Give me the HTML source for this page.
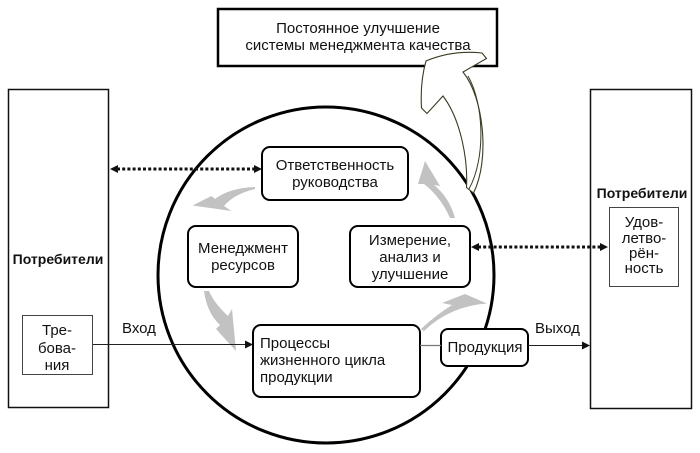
<!DOCTYPE html>
<html>
<head>
<meta charset="utf-8">
<style>
html,body{margin:0;padding:0;background:#fff;}
svg{display:block;}
text{font-family:"Liberation Sans","DejaVu Sans",sans-serif;fill:#111;}
</style>
</head>
<body>
<svg width="700" height="453" viewBox="0 0 700 453" xmlns="http://www.w3.org/2000/svg">
  <rect x="0" y="0" width="700" height="453" fill="#fff"/>

  <!-- Left consumers box -->
  <rect x="8.5" y="89.5" width="100" height="318" fill="#fff" stroke="#111" stroke-width="1.5"/>
  <text x="58" y="264" font-size="14" font-weight="bold" text-anchor="middle">Потребители</text>
  <rect x="22.5" y="315.5" width="70" height="59" fill="#fff" stroke="#444" stroke-width="1"/>
  <text x="57" y="335" font-size="15" text-anchor="middle">Тре-</text>
  <text x="57" y="353" font-size="15" text-anchor="middle">бова-</text>
  <text x="57" y="370" font-size="15" text-anchor="middle">ния</text>

  <!-- Right consumers box -->
  <rect x="590.5" y="89.5" width="101" height="319" fill="#fff" stroke="#111" stroke-width="1.5"/>
  <text x="642" y="198" font-size="14" font-weight="bold" text-anchor="middle">Потребители</text>
  <rect x="609.5" y="207.5" width="69" height="79" fill="#fff" stroke="#444" stroke-width="1"/>
  <text x="644" y="227" font-size="15" text-anchor="middle">Удов-</text>
  <text x="644" y="243" font-size="15" text-anchor="middle">летво-</text>
  <text x="644" y="258" font-size="15" text-anchor="middle">рён-</text>
  <text x="644" y="273" font-size="15" text-anchor="middle">ность</text>

  <!-- Big circle -->
  <circle cx="326" cy="275" r="168" fill="none" stroke="#000" stroke-width="3"/>

  <!-- Gray cycle arrows -->
  <g fill="#c2c2c2">
    <path d="M 255 187 Q 229 188 215 199 L 211.5 196 L 192.5 205.5 L 231.5 211 L 224 206 Q 234 194 255 189 Z"/>
    <path d="M 204 291 Q 207 313 220 325 L 216 329 L 236 351 L 232 309 L 228 316 Q 214 303 209 291 Z"/>
    <path d="M 421 329 Q 436 315 452 305 L 442 303 L 465 294 L 487 303.5 Q 450 306 424 331 Z"/>
    <path d="M 455 218 Q 449 197 434 185 L 440 186 L 425 161 L 418 184 L 424 184 Q 440 196 450 218 Z"/>
  </g>

  <!-- Rounded process boxes -->
  <g fill="#fff" stroke="#000" stroke-width="2">
    <rect x="262" y="147" width="146" height="53" rx="8" ry="8"/>
    <rect x="188" y="226" width="110" height="61" rx="8" ry="8"/>
    <rect x="350" y="226" width="120" height="61" rx="8" ry="8"/>
    <rect x="253" y="325" width="167" height="72" rx="8" ry="8"/>
    <rect x="441" y="329" width="87" height="37" rx="7" ry="7"/>
  </g>
  <text x="335" y="170" font-size="15" text-anchor="middle">Ответственность</text>
  <text x="335" y="187" font-size="15" text-anchor="middle">руководства</text>
  <text x="243" y="253" font-size="15" text-anchor="middle">Менеджмент</text>
  <text x="243" y="270" font-size="15" text-anchor="middle">ресурсов</text>
  <text x="410" y="245" font-size="15" text-anchor="middle">Измерение,</text>
  <text x="410" y="262" font-size="15" text-anchor="middle">анализ и</text>
  <text x="410" y="279" font-size="15" text-anchor="middle">улучшение</text>
  <text x="260" y="348" font-size="15">Процессы</text>
  <text x="260" y="365" font-size="15">жизненного цикла</text>
  <text x="260" y="382" font-size="15">продукции</text>
  <text x="485" y="352" font-size="15" text-anchor="middle">Продукция</text>

  <!-- Solid connectors -->
  <line x1="93" y1="344.5" x2="247" y2="344.5" stroke="#222" stroke-width="1"/>
  <polygon points="253,344.5 245,340.5 245,348.5" fill="#111"/>
  <text x="122" y="333" font-size="15">Вход</text>
  <line x1="420" y1="345.5" x2="441" y2="345.5" stroke="#777" stroke-width="1.2"/>
  <line x1="528" y1="345.5" x2="584" y2="345.5" stroke="#222" stroke-width="1"/>
  <polygon points="590,345.5 582,341.5 582,349.5" fill="#111"/>
  <text x="535" y="333" font-size="15">Выход</text>

  <!-- Dotted connectors -->
  <line x1="117" y1="169" x2="255" y2="169" stroke="#111" stroke-width="3" stroke-dasharray="3,2.2"/>
  <polygon points="110,169 118,165 118,173" fill="#111"/>
  <polygon points="262,169 254,165 254,173" fill="#111"/>
  <line x1="478" y1="247" x2="601" y2="247" stroke="#111" stroke-width="3" stroke-dasharray="3,2.2"/>
  <polygon points="471,247 479,243 479,251" fill="#111"/>
  <polygon points="608,247 600,243 600,251" fill="#111"/>

  <!-- Top box -->
  <rect x="218" y="9" width="279" height="57" fill="#fff" stroke="#000" stroke-width="2.5"/>
  <text x="358" y="33" font-size="15" text-anchor="middle">Постоянное улучшение</text>
  <text x="358" y="50" font-size="15" text-anchor="middle">системы менеджмента качества</text>

  <!-- Big hollow curved arrow -->
  <path d="M 426 61 Q 452 50 482 53 L 486.5 58.5 L 463 72 C 484 98 490 160 473.5 193 L 466.5 187.5 C 468 160 461 120 443 96 L 427 113.5 L 421.5 108 Q 420 82 426 61 Z"
        fill="#fff" stroke="#3a3a22" stroke-width="1.1" stroke-linejoin="miter"/>
  <path d="M 468 76 C 484 104 486 158 469 189" fill="none" stroke="#3a3a22" stroke-width="1"/>
</svg>
</body>
</html>
